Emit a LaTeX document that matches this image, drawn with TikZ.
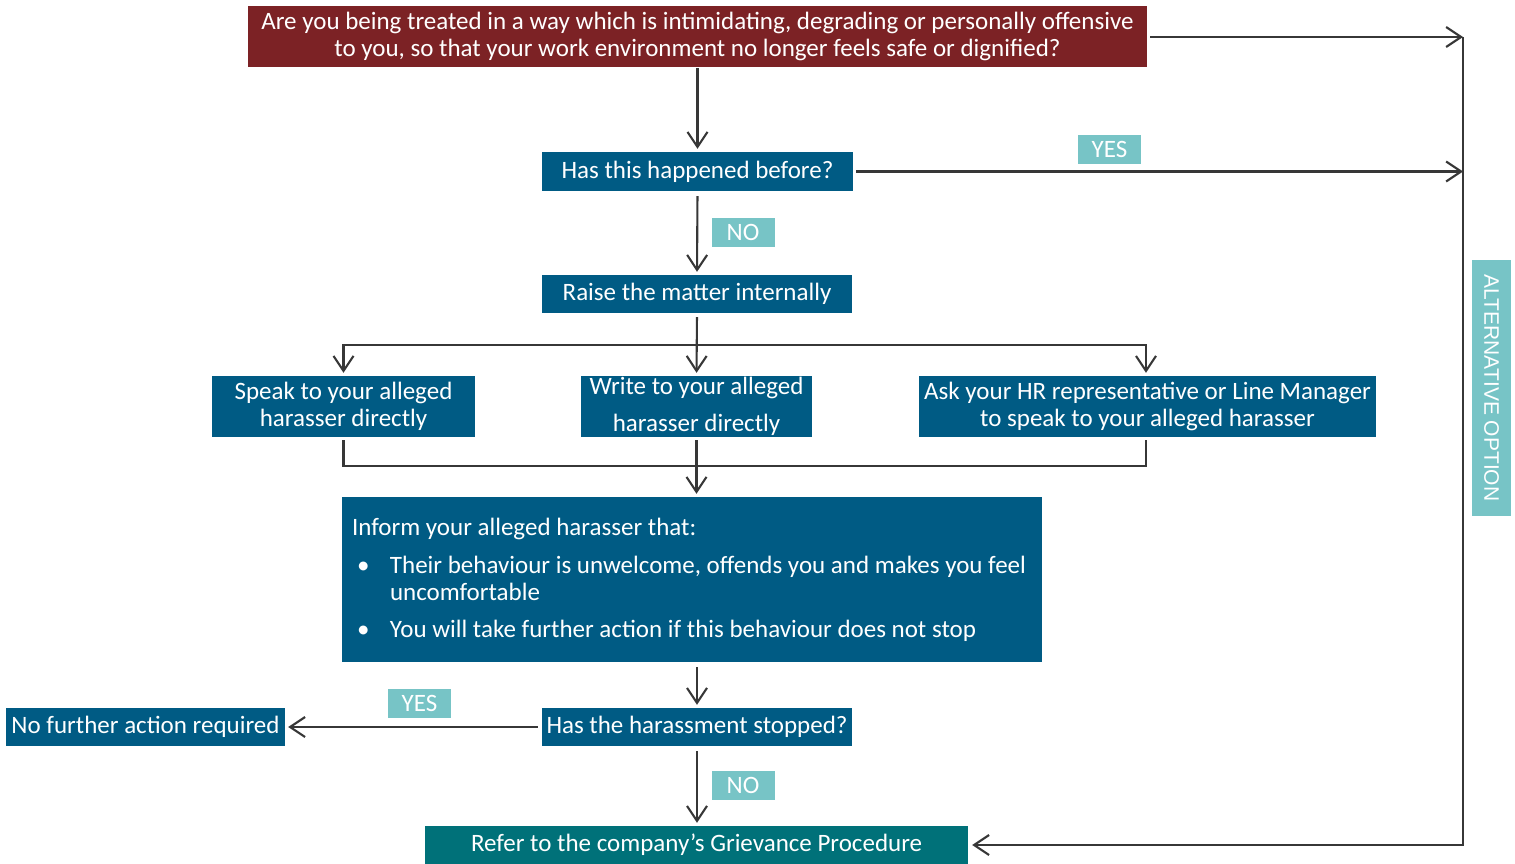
\documentclass[tikz,border=0pt]{standalone}
\usepackage{fontspec}
\setmainfont{Carlito}
\newfontfamily\altfont{Liberation Sans}
\usetikzlibrary{arrows.meta}
\definecolor{boxblue}{RGB}{0,91,132}
\definecolor{boxred}{RGB}{124,34,37}
\definecolor{boxteal}{RGB}{0,113,121}
\definecolor{labteal}{RGB}{119,196,198}
\definecolor{linegray}{RGB}{55,55,55}
\begin{document}
\begin{tikzpicture}[x=1pt,y=-1pt,font=\fontsize{25}{27}\selectfont,
  box/.style={fill=boxblue,text=white,inner sep=0pt,align=center},
  lab/.style={fill=labteal,text=white,inner sep=0pt,minimum width=63pt,minimum height=29pt,font=\fontsize{25}{26}\selectfont},
  arr/.style={draw=linegray,line width=2.1pt,-{Straight Barb[length=15pt,width=20pt]},shorten >=3pt},
  ln/.style={draw=linegray,line width=2.1pt}]
\useasboundingbox (0,0) rectangle (1515,863);

% boxes
\node[box,fill=boxred,minimum width=899pt,minimum height=61pt] (top) at (697.5,36.5)
  {Are you being treated in a way which is intimidating, degrading or personally offensive\\to you, so that your work environment no longer feels safe or dignified?};
\node[box,minimum width=311pt,minimum height=39pt] (has) at (697.5,171.5) {Has this happened before?};
\node[box,minimum width=310pt,minimum height=38pt] (raise) at (697,294) {Raise the matter internally};
\node[box,minimum width=263pt,minimum height=61pt] (speak) at (343.5,406.5) {Speak to your alleged\\harasser directly};
\node[box,minimum width=231pt,minimum height=61pt,font=\fontsize{25}{37}\selectfont] (write) at (696.5,406.5) {Write to your alleged\\harasser directly};
\node[box,minimum width=457pt,minimum height=61pt] (ask) at (1147.5,406.5) {Ask your HR representative or Line Manager\\to speak to your alleged harasser};
\node[box,minimum width=700pt,minimum height=165pt,inner xsep=10pt,align=left] (inform) at (692,579.5)
  {\parbox{680pt}{\raggedright Inform your alleged harasser that:\par\vspace{11pt}
   \hangindent=38pt\hangafter=1\makebox[38pt][l]{\hspace{5pt}\textbullet}Their behaviour is unwelcome, offends you and makes you feel\newline uncomfortable\par\vspace{10pt}
   \makebox[38pt][l]{\hspace{5pt}\textbullet}You will take further action if this behaviour does not stop}};
\node[box,minimum width=310pt,minimum height=38pt] (stopped) at (697,727) {Has the harassment stopped?};
\node[box,minimum width=279pt,minimum height=38pt] (nofurther) at (145.5,727) {No further action required};
\node[box,fill=boxteal,minimum width=543pt,minimum height=38pt] (refer) at (696.5,845) {Refer to the company’s Grievance Procedure};
\node[fill=labteal,text=white,inner sep=0pt,minimum width=256pt,minimum height=39pt,rotate=-90,font=\altfont\fontsize{21}{22}\selectfont] (alt) at (1491.5,388) {ALTERNATIVE OPTION};

% labels
\node[lab] (yes1) at (1109.5,149.5) {YES};
\node[lab] (no1) at (743,232.5) {NO};
\node[lab] (yes2) at (419.5,703.5) {YES};
\node[lab] (no2) at (743,785.5) {NO};

% helper coordinates
\coordinate (rtop) at (1463,37);
\coordinate (rbot) at (1463,845);
\coordinate (j1) at (697,345);
\coordinate (j2) at (697,466);

% connectors
\draw[arr,shorten <=1pt] (top.south -| has.north) -- (has.north);
\draw[arr,shorten <=3pt,shorten >=0pt] (top.east |- rtop) -- (rtop);
\draw[arr,shorten <=3pt,shorten >=0pt] (has.east) -- (has.east -| rtop);
\draw[arr,shorten >=4pt] (rtop) -- (rbot) -- (refer.east);
\draw[arr,shorten <=5pt] (has.south) -- (raise.north);
\draw[arr,shorten <=4pt] (raise.south) -- (write.north);
\draw[arr] (j1) -| (speak.north);
\draw[arr] (j1) -| (ask.north -| 1146,0);
\draw[ln,shorten <=3pt] (speak.south) -- (speak.south |- j2) -- (1146,466) -- (1146,440);
\draw[arr,shorten <=3pt] (write.south) -- (inform.north -| write.south);
\draw[arr,shorten <=5pt] (inform.south -| stopped.north) -- (stopped.north);
\draw[arr,shorten <=4pt] (stopped.west) -- (nofurther.east);
\draw[arr,shorten <=5pt] (stopped.south) -- (refer.north -| stopped.south);
\end{tikzpicture}
\end{document}
